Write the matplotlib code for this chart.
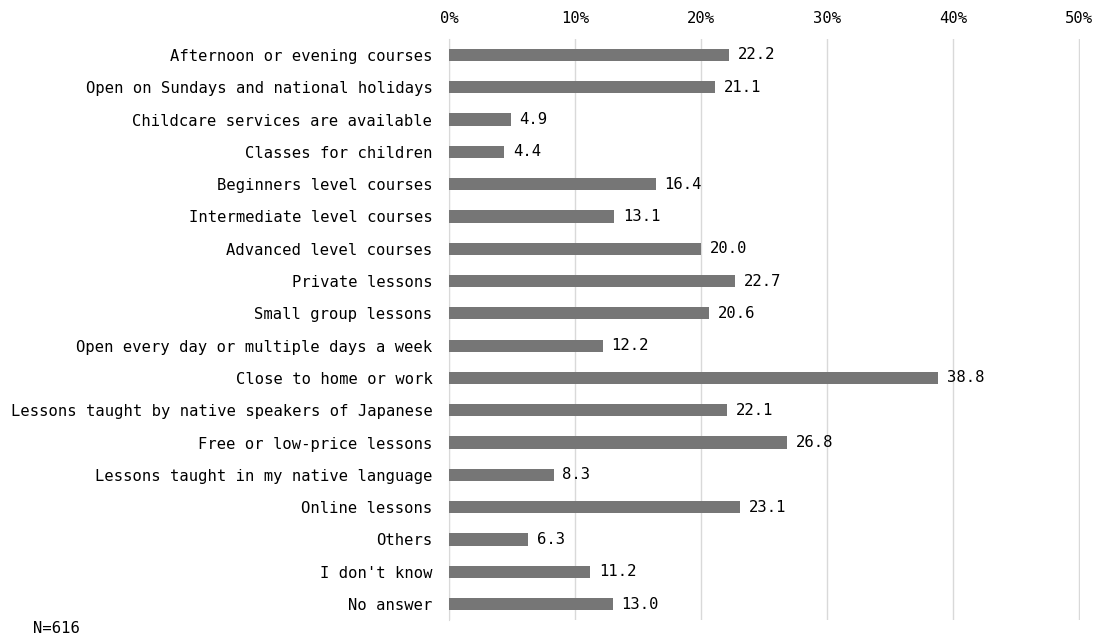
import matplotlib
matplotlib.use("Agg")
import matplotlib.pyplot as plt
from matplotlib.ticker import FuncFormatter

# datos
categorias = [
    "Afternoon or evening courses",
    "Open on Sundays and national holidays",
    "Childcare services are available",
    "Classes for children",
    "Beginners level courses",
    "Intermediate level courses",
    "Advanced level courses",
    "Private lessons",
    "Small group lessons",
    "Open every day or multiple days a week",
    "Close to home or work",
    "Lessons taught by native speakers of Japanese",
    "Free or low-price lessons",
    "Lessons taught in my native language",
    "Online lessons",
    "Others",
    "I don't know",
    "No answer",
]
valores = [22.2, 21.1, 4.9, 4.4, 16.4, 13.1, 20.0, 22.7, 20.6, 12.2,
           38.8, 22.1, 26.8, 8.3, 23.1, 6.3, 11.2, 13.0]
ticks = [0, 10, 20, 30, 40, 50]
nota = "N=616"

plt.rcParams['font.family'] = ['DejaVu Sans Mono']
fs = 11.2

fig = plt.figure(figsize=(10.99, 6.39), dpi=100)
ax = fig.add_axes([0.4086, 0.0295, 0.5741, 0.9097])

pos = list(range(len(categorias)))
ax.barh(pos, valores, height=0.38, color='#767676', zorder=3)
for p, v in zip(pos, valores):
    ax.text(v + 0.7, p, f"{v:.1f}", va='center', ha='left', fontsize=fs)

ax.set_ylim(len(categorias) - 0.5, -0.5)
ax.set_yticks(pos)
ax.set_yticklabels(categorias, fontsize=fs)
ax.set_xlim(0, 50.08)
ax.set_xticks(ticks)
ax.xaxis.set_major_formatter(FuncFormatter(lambda x, _: f"{int(x)}%"))
ax.xaxis.tick_top()
ax.tick_params(axis='x', length=0, labelsize=fs, pad=9)
ax.tick_params(axis='y', length=0, pad=12)
ax.grid(axis='x', color='#d9d9d9', linewidth=1, zorder=0)
for s in ['top', 'right', 'bottom']:
    ax.spines[s].set_visible(False)
ax.spines['left'].set_color('#d9d9d9')

fig.text(0.03, 0.004, nota, fontsize=fs, ha='left', va='bottom')

fig.savefig("out.png", dpi=100)
